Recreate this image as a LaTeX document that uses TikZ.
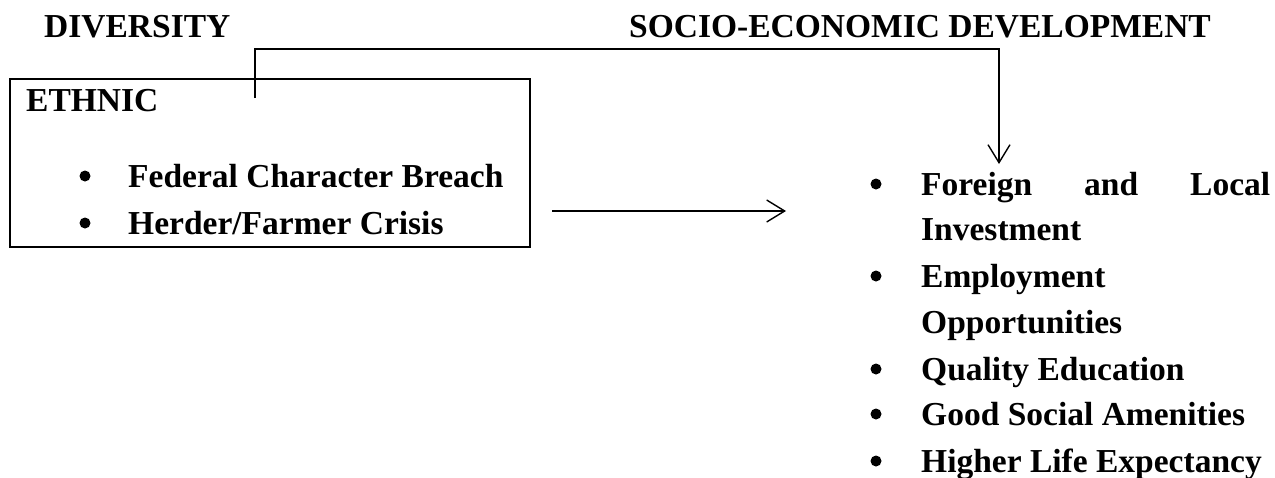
\documentclass[tikz,border=0pt]{standalone}
\usepackage{fontspec}
\setmainfont{Liberation Serif}
\usetikzlibrary{arrows.meta}
\begin{document}
\begin{tikzpicture}[x=1pt,y=-1pt,
  lbl/.style={anchor=base west, inner sep=0pt, font=\fontsize{33.5}{40}\selectfont\bfseries},
  conn/.style={line width=1.6pt, draw=black},
  tip/.style={-{Straight Barb[length=18pt,width=22pt,line width=1.4pt]}},
  blt/.style={circle, fill=black, minimum size=11pt, inner sep=0pt}]
\path[use as bounding box] (0,0) rectangle (1275,477);

% headings
\node[lbl] (diversity) at (44,37) {DIVERSITY};
\node[lbl] (socio) at (629,37) {SOCIO-ECONOMIC DEVELOPMENT};

% ethnic box
\node[conn, draw, minimum width=520pt, minimum height=168pt, inner sep=0pt, anchor=north west] (ethnicbox) at (9,78) {};
\node[lbl] (ethnic) at (26,111) {ETHNIC};
\node[blt] (bl1) at (85,176) {};
\node[lbl] (federal) at (128,187) {Federal Character Breach};
\node[blt] (bl2) at (85,223) {};
\node[lbl] (herder) at (128,234) {Herder/Farmer Crisis};

% right list
\node[blt] (br1) at (876,184) {};
\node[lbl] (foreign) at (921,195) {\makebox[349pt][s]{Foreign and Local}};
\node[lbl] (invest) at (921,240) {Investment};
\node[blt] (br2) at (876,276) {};
\node[lbl] (employ) at (921,287) {Employment};
\node[lbl] (opport) at (921,333) {Opportunities};
\node[blt] (br3) at (876,369) {};
\node[lbl] (quality) at (921,380) {Quality Education};
\node[blt] (br4) at (876,414) {};
\node[lbl] (good) at (921,425) {Good Social Amenities};
\node[blt] (br5) at (876,461) {};
\node[lbl] (higher) at (921,472) {Higher Life Expectancy};

% connectors
\coordinate (topstart) at (255,98);
\coordinate (topend) at (999,164);
\coordinate (arrstart) at (552,211);
\coordinate (arrend) at (786,211);
\draw[conn, tip] (topstart) -- (255,49) -| (topend);
\draw[conn, tip] (arrstart) -- (arrend);
\end{tikzpicture}
\end{document}
